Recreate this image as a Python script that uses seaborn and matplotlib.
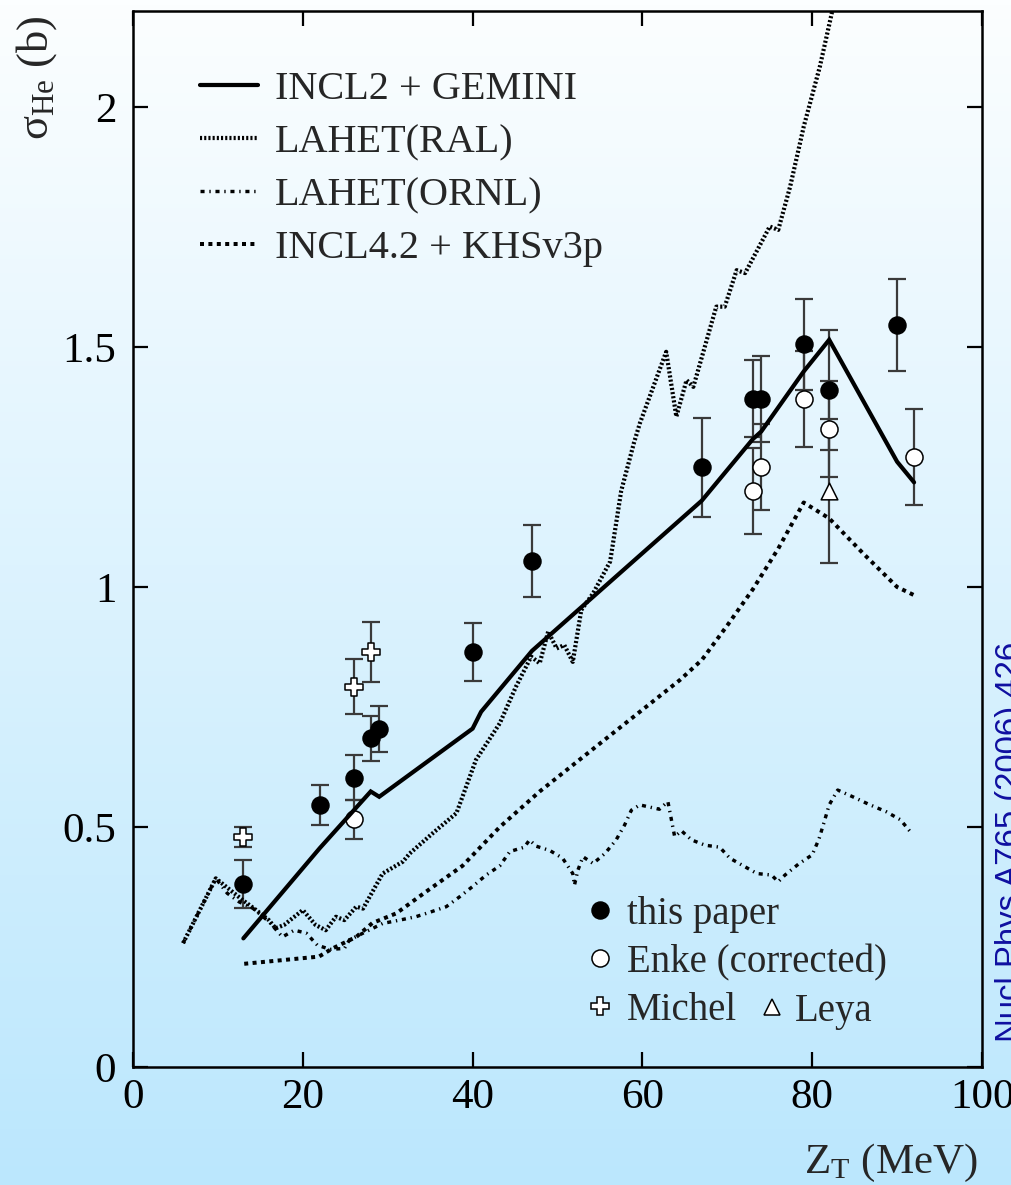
import numpy as np
import pandas as pd
import matplotlib
matplotlib.use("Agg")
import matplotlib.pyplot as plt
import seaborn as sns
from matplotlib.lines import Line2D

# ---------------- data ----------------
# INCL2 + GEMINI (solid)
incl2_x = [13, 22, 28, 29, 40, 41, 47, 67, 73, 74, 79, 82, 90, 92]
incl2_y = [0.268, 0.456, 0.574, 0.563, 0.705, 0.74, 0.867, 1.18, 1.308, 1.324, 1.449, 1.515, 1.261, 1.218]

# LAHET(RAL) (fine dotted)
ral_x = [5.9, 9.75, 12.9, 14.5, 16.0, 16.8, 17.8, 20.0, 21.5, 22.7, 23.9, 24.9, 26.3, 27.1, 29.4, 31.8,
         32.6, 35.3, 38.1, 40.4, 43.2, 45.1, 46.9, 47.9, 48.9, 49.9, 50.8, 51.8, 52.8, 54.2, 56.2,
         57.5, 59.0, 59.7, 62.8, 64.0, 65.2, 66.0, 68.7, 69.7, 71.1, 72.1, 75.0, 76.0, 77.4, 79.0,
         80.9, 82.3, 82.6]
ral_y = [0.258, 0.393, 0.348, 0.327, 0.306, 0.289, 0.296, 0.327, 0.296, 0.285, 0.313, 0.306, 0.334, 0.33,
         0.403, 0.428, 0.445, 0.487, 0.529, 0.64, 0.716, 0.792, 0.855, 0.841, 0.907, 0.872, 0.879,
         0.844, 0.952, 0.987, 1.053, 1.2, 1.3, 1.341, 1.49, 1.355, 1.431, 1.417, 1.584, 1.584, 1.66,
         1.654, 1.751, 1.744, 1.834, 1.959, 2.084, 2.195, 2.25]

# LAHET(ORNL) (dash-dot)
ornl_x = [5.9, 9.75, 11.1, 12.5, 14.1, 16.0, 17.6, 19.0, 20.4, 21.7, 23.2, 24.9, 25.5, 27.8, 29.4,
          31.4, 33.3, 34.9, 36.9, 38.5, 40.0, 41.6, 43.2, 44.4, 46.1, 46.7, 47.5, 49.1, 50.6, 51.8,
          52.0, 52.4, 53.0, 54.2, 55.6, 56.9, 57.9, 58.7, 59.7, 62.0, 63.0, 63.2, 63.8, 64.6, 65.8,
          67.4, 69.1, 70.3, 71.7, 73.5, 75.2, 76.0, 76.8, 78.4, 80.0, 80.8, 81.4, 82.0, 83.0, 84.9,
          86.7, 88.7, 90.4, 91.7]
ornl_y = [0.258, 0.393, 0.362, 0.344, 0.331, 0.303, 0.271, 0.285, 0.279, 0.254, 0.245, 0.247, 0.265,
          0.285, 0.299, 0.306, 0.313, 0.322, 0.334, 0.355, 0.376, 0.40, 0.419, 0.449, 0.458, 0.473,
          0.46, 0.451, 0.435, 0.403, 0.379, 0.41, 0.438, 0.424, 0.445, 0.473, 0.504, 0.535, 0.546,
          0.537, 0.553, 0.535, 0.48, 0.492, 0.473, 0.462, 0.458, 0.435, 0.421, 0.403, 0.40, 0.386,
          0.40, 0.423, 0.442, 0.475, 0.51, 0.546, 0.577, 0.562, 0.547, 0.532, 0.515, 0.487]

# INCL4.2 + KHSv3p (dotted, thick)
incl4_x = [13.1, 21.9, 23.5, 26.3, 28.2, 31.0, 34.5, 38.8, 43.2, 47.9, 55.0, 64.4, 67, 70, 73, 76, 79, 82, 86, 90, 92]
incl4_y = [0.215, 0.23, 0.247, 0.271, 0.30, 0.32, 0.365, 0.419, 0.50, 0.574, 0.674, 0.806, 0.848, 0.92,
           0.995, 1.08, 1.176, 1.143, 1.07, 1.0, 0.983]

# experimental data
paper_x = [13, 22, 26, 28, 29, 40, 47, 67, 73, 74, 79, 82, 90]
paper_y = [0.381, 0.546, 0.603, 0.685, 0.705, 0.865, 1.055, 1.249, 1.392, 1.392, 1.506, 1.41, 1.546]
paper_e = [0.05, 0.041, 0.047, 0.047, 0.048, 0.06, 0.075, 0.104, 0.08, 0.09, 0.095, 0.125, 0.095]

enke_x = [26, 73, 74, 79, 82, 92]
enke_y = [0.516, 1.20, 1.25, 1.391, 1.33, 1.271]
enke_e = [0.04, 0.09, 0.09, 0.10, 0.10, 0.10]

michel_x = [13, 26, 28]
michel_y = [0.479, 0.792, 0.865]
michel_e = [0.021, 0.057, 0.063]

leya_x = [82]
leya_y = [1.20]
leya_e = [0.15]

x_ticks = [0, 20, 40, 60, 80, 100]
x_ticklabels = ["0", "20", "40", "60", "80", "100"]
y_ticks = [0, 0.5, 1, 1.5, 2]
y_ticklabels = ["0", "0.5", "1", "1.5", "2"]

# ---------------- style ----------------
sns.set_theme(style="ticks")
plt.rcParams["font.family"] = ["Liberation Serif", "DejaVu Serif"]
plt.rcParams["mathtext.fontset"] = "custom"
plt.rcParams["mathtext.rm"] = "Liberation Serif"
plt.rcParams["mathtext.it"] = "Liberation Serif:italic"

W, H = 1012, 1185
fig = plt.figure(figsize=(W / 100, H / 100), dpi=100)

# gradient background
bg = fig.add_axes([0, 0, 1, 1], zorder=-10)
top_c = np.array([252, 254, 255]) / 255.0
bot_c = np.array([187, 231, 253]) / 255.0
t = np.linspace(0, 1, 256)[:, None]
grad = (top_c[None, :] * (1 - t) + bot_c[None, :] * t)[:, None, :]
bg.imshow(grad, aspect="auto", extent=[0, 1, 0, 1], origin="upper")
bg.set_axis_off()

ax_l, ax_r, ax_b, ax_t = 133, 982, 1067, 11
ax = fig.add_axes([ax_l / W, 1 - ax_b / H, (ax_r - ax_l) / W, (ax_b - ax_t) / H])
ax.set_facecolor("none")
ax.set_xlim(0, 100)
ax.set_ylim(0, 2.2)

lw_px = lambda p: p * 0.72
RAL_LS = (0, (0.5, 0.5))
ORNL_LS = (0, (1.2, 1.4, 0.4, 1.4))
INCL4_LS = (0, (1.0, 1.1))

# model curves
sns.lineplot(x=incl2_x, y=incl2_y, ax=ax, color="black", linewidth=lw_px(4.2), sort=False,
             estimator=None, zorder=5, solid_joinstyle="miter")
sns.lineplot(x=ral_x, y=ral_y, ax=ax, color="black", linewidth=lw_px(4.2), sort=False,
             estimator=None, zorder=5, linestyle=RAL_LS)
sns.lineplot(x=ornl_x, y=ornl_y, ax=ax, color="black", linewidth=lw_px(3.4), sort=False,
             estimator=None, zorder=5, linestyle=ORNL_LS)
sns.lineplot(x=incl4_x, y=incl4_y, ax=ax, color="black", linewidth=lw_px(4.0), sort=False,
             estimator=None, zorder=5, linestyle=INCL4_LS)

# error bars
eb_kw = dict(fmt="none", ecolor="#3a3a3a", elinewidth=1.6, capsize=6.2, capthick=1.6, zorder=2)
ax.errorbar(paper_x, paper_y, yerr=paper_e, **eb_kw)
ax.errorbar(enke_x, enke_y, yerr=enke_e, **eb_kw)
ax.errorbar(michel_x, michel_y, yerr=michel_e, **eb_kw)
ax.errorbar(leya_x, leya_y, yerr=leya_e, **eb_kw)

# markers
ms = 12.3
sns.scatterplot(x=paper_x, y=paper_y, ax=ax, marker="o", s=ms ** 2, color="black",
                edgecolor="black", linewidth=1, zorder=3)
sns.scatterplot(x=enke_x, y=enke_y, ax=ax, marker="o", s=ms ** 2, facecolor="white",
                edgecolor="black", linewidth=1.1, zorder=3)
sns.scatterplot(x=michel_x, y=michel_y, ax=ax, marker="P", s=13 ** 2, facecolor="white",
                edgecolor="black", linewidth=1.1, zorder=3)
sns.scatterplot(x=leya_x, y=leya_y, ax=ax, marker="^", s=12 ** 2, facecolor="white",
                edgecolor="black", linewidth=1.1, zorder=3)

# axes styling
for sp in ax.spines.values():
    sp.set_visible(True)
    sp.set_linewidth(1.8)
    sp.set_color("black")
ax.set_xticks(x_ticks)
ax.set_xticklabels(x_ticklabels)
ax.set_yticks(y_ticks)
ax.set_yticklabels(y_ticklabels)
ax.tick_params(axis="both", which="major", direction="in", length=11, width=1.6,
               top=True, right=True, labelsize=31, colors="black", pad=8)
ax.tick_params(axis="y", pad=12)
ax.set_xlabel("")
ax.set_ylabel("")

# axis labels
fig.text(978 / W, 1 - 1173 / H, r"$\mathrm{Z}_{\mathrm{T}}$ (MeV)", ha="right", va="baseline",
         fontsize=31)
fig.text(37 / W, 1 - 140 / H, r"σ$_{\mathrm{He}}$ (b)", ha="center", va="bottom",
         rotation=90, fontsize=32)

# legend 1 (models)
def ax_frac(px, py):
    return ((px - ax_l) / (ax_r - ax_l), (ax_b - py) / (ax_b - ax_t))

h1 = [
    Line2D([], [], color="black", lw=lw_px(4.2)),
    Line2D([], [], color="black", lw=lw_px(4.2), linestyle=RAL_LS),
    Line2D([], [], color="black", lw=lw_px(3.4), linestyle=ORNL_LS),
    Line2D([], [], color="black", lw=lw_px(4.0), linestyle=INCL4_LS),
]
l1 = ["INCL2 + GEMINI", "LAHET(RAL)", "LAHET(ORNL)", "INCL4.2 + KHSv3p"]
leg1 = ax.legend(h1, l1, loc="upper left", bbox_to_anchor=ax_frac(200, 71), frameon=False,
                 fontsize=29, borderpad=0, borderaxespad=0, handlelength=1.43,
                 handletextpad=0.42, labelspacing=0.39)
ax.add_artist(leg1)

# legend 2 (data)
h2 = [
    Line2D([], [], marker="o", color="black", ls="none", markersize=ms, markerfacecolor="black"),
    Line2D([], [], marker="o", color="black", ls="none", markersize=ms, markerfacecolor="white",
           markeredgewidth=1.1),
    Line2D([], [], marker="P", color="black", ls="none", markersize=13, markerfacecolor="white",
           markeredgewidth=1.1),
]
l2 = ["this paper", "Enke (corrected)", "Michel"]
leg2 = ax.legend(h2, l2, loc="upper left", bbox_to_anchor=ax_frac(588, 896), frameon=False,
                 fontsize=28, borderpad=0, borderaxespad=0, handlelength=0.6,
                 handletextpad=0.4, labelspacing=0.28)
ax.add_artist(leg2)

h3 = [Line2D([], [], marker="^", color="black", ls="none", markersize=12, markerfacecolor="white",
             markeredgewidth=1.1)]
leg3 = ax.legend(h3, ["Leya"], loc="upper left", bbox_to_anchor=ax_frac(760, 993), frameon=False,
                 fontsize=28, borderpad=0, borderaxespad=0, handlelength=0.6,
                 handletextpad=0.3)

# side reference text (clipped by the right edge, as in the original)
fig.text(995 / W, 1 - 1042 / H, "Nucl Phys A765 (2006) 426", rotation=90, ha="left", va="bottom",
         fontsize=23.7, color="#0f0fa0", family=["Liberation Sans", "DejaVu Sans"])

fig.savefig("out.png", dpi=100)
